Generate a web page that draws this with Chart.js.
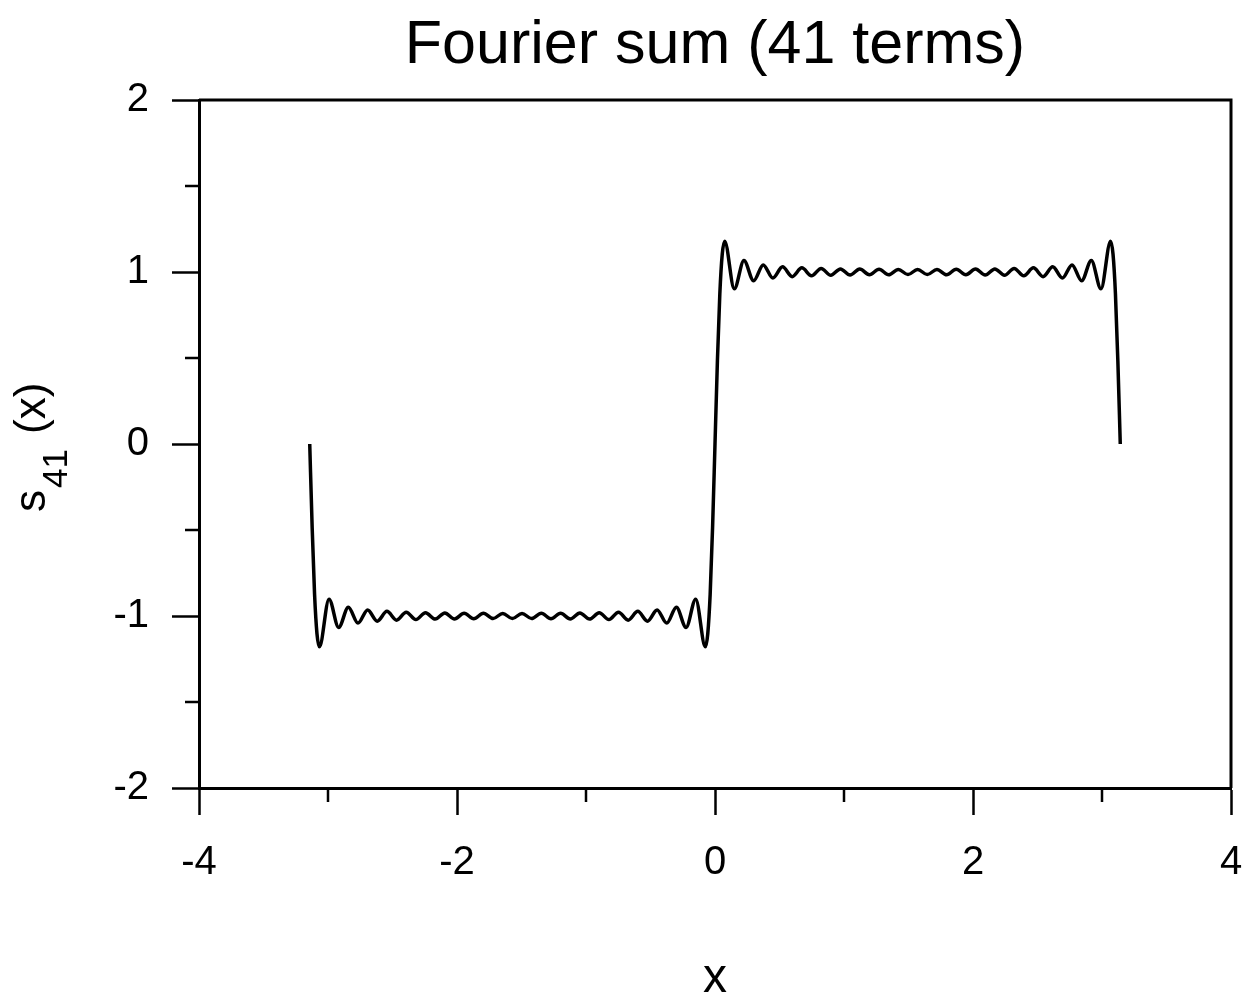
<!DOCTYPE html>
<html>
<head>
<meta charset="utf-8">
<script src="https://cdn.jsdelivr.net/npm/chart.js@4/dist/chart.umd.min.js"></script>
<style>
  html, body { margin: 0; padding: 0; background: #fff; }
  #wrap { width: 1245px; height: 997px; }
</style>
</head>
<body>
<div id="wrap"><canvas id="chart" width="1245" height="997"></canvas></div>
<script>
// points: ends, steep jumps and every ripple peak/trough
const xValues = [
  -3.1416, -3.1229, -3.1042, -3.0855, -3.0668, -2.9920, -2.9172, -2.8424, -2.7676, -2.6928,
  -2.6180, -2.5432, -2.4684, -2.3936, -2.3188, -2.2440, -2.1692, -2.0944, -2.0196, -1.9448,
  -1.8700, -1.7952, -1.7204, -1.6456, -1.5708, -1.4960, -1.4212, -1.3464, -1.2716, -1.1968,
  -1.1220, -1.0472, -0.9724, -0.8976, -0.8228, -0.7480, -0.6732, -0.5984, -0.5236, -0.4488,
  -0.3740, -0.2992, -0.2244, -0.1496, -0.0748, -0.0561, -0.0374, -0.0187, 0,
  0.0187, 0.0374, 0.0561, 0.0748, 0.1496, 0.2244, 0.2992, 0.3740, 0.4488, 0.5236,
  0.5984, 0.6732, 0.7480, 0.8228, 0.8976, 0.9724, 1.0472, 1.1220, 1.1968, 1.2716,
  1.3464, 1.4212, 1.4960, 1.5708, 1.6456, 1.7204, 1.7952, 1.8700, 1.9448, 2.0196,
  2.0944, 2.1692, 2.2440, 2.3188, 2.3936, 2.4684, 2.5432, 2.6180, 2.6928, 2.7676,
  2.8424, 2.9172, 2.9920, 3.0668, 3.0855, 3.1042, 3.1229, 3.1416,
];

const yValues = [
  0, -0.483, -0.873, -1.103, -1.179, -0.902, -1.067, -0.949, -1.041, -0.965,
  -1.030, -0.973, -1.024, -0.978, -1.021, -0.981, -1.018, -0.982, -1.017, -0.984,
  -1.016, -0.984, -1.015, -0.985, -1.015, -0.985, -1.015, -0.984, -1.016, -0.984,
  -1.017, -0.982, -1.018, -0.981, -1.021, -0.978, -1.024, -0.973, -1.030, -0.965,
  -1.041, -0.949, -1.067, -0.902, -1.179, -1.103, -0.873, -0.483, 0,
  0.483, 0.873, 1.103, 1.179, 0.902, 1.067, 0.949, 1.041, 0.965, 1.030,
  0.973, 1.024, 0.978, 1.021, 0.981, 1.018, 0.982, 1.017, 0.984, 1.016,
  0.984, 1.015, 0.985, 1.015, 0.985, 1.015, 0.984, 1.016, 0.984, 1.017,
  0.982, 1.018, 0.981, 1.021, 0.978, 1.024, 0.973, 1.030, 0.965, 1.041,
  0.949, 1.067, 0.902, 1.179, 1.103, 0.873, 0.483, 0,
];

// axis ranges and tick marks
const xRange = [-4, 4];
const yRange = [-2, 2];
const xMinorTicks = [-3, -1, 1, 3];
const yMinorTicks = [-1.5, -0.5, 0.5, 1.5];

const titleText = 'Fourier sum (41 terms)';
const xTitle = 'x';

const font = '"Liberation Sans", Arial, Helvetica, sans-serif';

// frame, minor ticks and the titles (y title has a subscript, so draw it by hand)
const decorations = {
  id: 'decorations',
  afterDraw(chart) {
    const { ctx, chartArea, scales } = chart;
    const { left, right, top, bottom } = chartArea;
    ctx.save();
    ctx.strokeStyle = '#000';
    ctx.lineWidth = 3;
    ctx.beginPath();
    ctx.moveTo(left, top);
    ctx.lineTo(right, top);
    ctx.lineTo(right, bottom);
    ctx.stroke();

    ctx.lineWidth = 2.5;
    ctx.beginPath();
    xMinorTicks.forEach((v) => {
      const px = scales.x.getPixelForValue(v);
      ctx.moveTo(px, bottom);
      ctx.lineTo(px, bottom + 14);
    });
    yMinorTicks.forEach((v) => {
      const py = scales.y.getPixelForValue(v);
      ctx.moveTo(left - 14, py);
      ctx.lineTo(left, py);
    });
    ctx.stroke();

    ctx.fillStyle = '#000';
    ctx.textAlign = 'center';
    ctx.textBaseline = 'alphabetic';
    ctx.font = `61px ${font}`;
    ctx.fillText(titleText, (left + right) / 2, 63);

    ctx.font = `48px ${font}`;
    ctx.fillText(xTitle, (left + right) / 2, 992);

    // s_41(x), rotated
    ctx.translate(45, 512);
    ctx.rotate(-Math.PI / 2);
    ctx.textAlign = 'left';
    ctx.font = `44px ${font}`;
    ctx.fillText('s', 0, 0);
    ctx.font = `35px ${font}`;
    ctx.fillText('41', 24, 22);
    ctx.font = `44px ${font}`;
    ctx.fillText('(x)', 78, 0);
    ctx.restore();
  },
};

const points = xValues.map((x, i) => ({ x, y: yValues[i] }));

new Chart(document.querySelector('#chart'), {
  type: 'line',
  data: {
    datasets: [
      {
        data: points,
        borderColor: '#000',
        borderWidth: 3.5,
        pointRadius: 0,
        fill: false,
        cubicInterpolationMode: 'monotone',
      },
    ],
  },
  options: {
    responsive: false,
    animation: false,
    layout: {
      padding: { top: 100, right: 14, left: 0, bottom: 0 },
    },
    plugins: {
      legend: { display: false },
      title: { display: false },
      tooltip: { enabled: false },
    },
    scales: {
      x: {
        type: 'linear',
        min: xRange[0],
        max: xRange[1],
        afterFit(scale) {
          scale.height = 209;
          scale.paddingLeft = 0;
          scale.paddingRight = 0;
        },
        border: { color: '#000', width: 3 },
        grid: {
          drawOnChartArea: false,
          drawTicks: true,
          tickLength: 27,
          tickWidth: 2.5,
          tickColor: '#000',
        },
        ticks: {
          stepSize: 2,
          color: '#000',
          padding: 24,
          maxRotation: 0,
          font: { family: font, size: 40 },
        },
      },
      y: {
        type: 'linear',
        min: yRange[0],
        max: yRange[1],
        afterFit(scale) {
          scale.width = 199;
          scale.paddingTop = 0;
          scale.paddingBottom = 0;
        },
        border: { color: '#000', width: 3 },
        grid: {
          drawOnChartArea: false,
          drawTicks: true,
          tickLength: 27,
          tickWidth: 2.5,
          tickColor: '#000',
        },
        ticks: {
          stepSize: 1,
          color: '#000',
          padding: 23,
          font: { family: font, size: 40 },
        },
      },
    },
  },
  plugins: [decorations],
});
</script>
</body>
</html>
